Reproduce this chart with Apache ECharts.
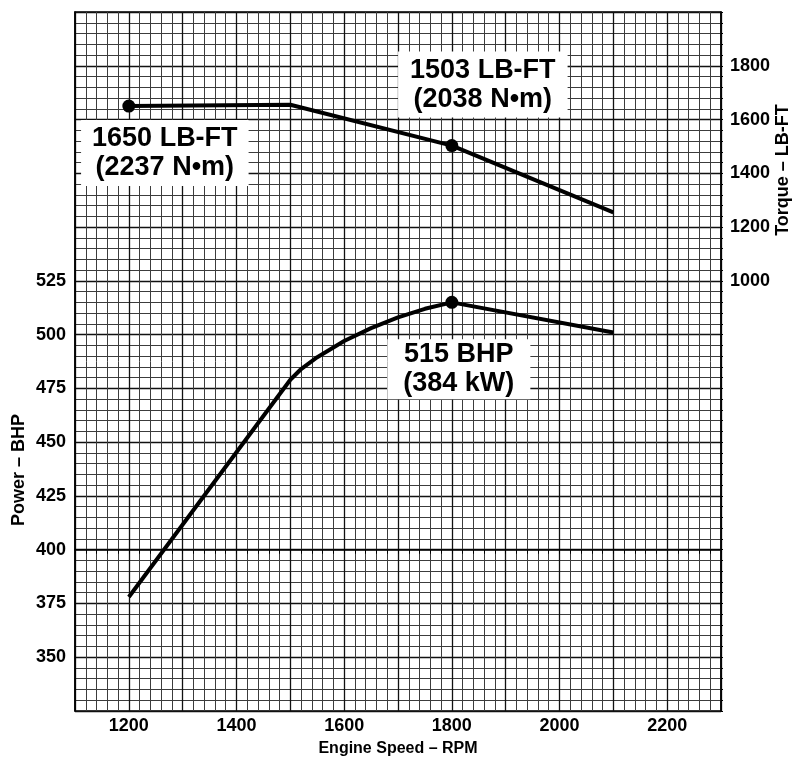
<!DOCTYPE html>
<html>
<head>
<meta charset="utf-8">
<script src="https://cdn.jsdelivr.net/npm/echarts@6/dist/echarts.min.js"></script>
<style>
html,body{margin:0;padding:0;background:#fff;}
#chart{width:799px;height:758px;}
</style>
</head>
<body>
<div id="chart"></div>
<script>
// ---- data ----
const rpmTorque = [1200, 1500, 1800, 2100];
const torqueLbFt = [1650, 1655, 1503, 1255];
const rpmPower = [1200, 1500, 1520, 1550, 1600, 1650, 1700, 1750, 1800, 2100];
const powerBhp = [378, 479, 484, 489.5, 497, 503, 508, 512, 515, 501];

const torquePeakRpm = [1200, 1800];
const torquePeakVal = [1650, 1503];
const torquePeakText = ['1650 LB-FT\n(2237 N•m)', '1503 LB-FT\n(2038 N•m)'];
const powerPeakRpm = [1800];
const powerPeakVal = [515];
const powerPeakText = ['515 BHP\n(384 kW)'];

const xTickLabels = [1200, 1400, 1600, 1800, 2000, 2200];
const powerTickLabels = [350, 375, 400, 425, 450, 475, 500, 525];
const torqueTickLabels = [1000, 1200, 1400, 1600, 1800];

// ---- chart ----
const FONT = '"Liberation Sans", Arial, Helvetica, sans-serif';
const chart = echarts.init(document.getElementById('chart'), null, {renderer: 'canvas'});

const zip = (a, b) => a.map((v, i) => [v, b[i]]);

const annotOffsets = {
  torque: [[36, 47], [31, -61]],
  power: [[7, 67]]
};
const annotPadding = {
  torque: [[4, 11], [4, 12]],
  power: [[1, 16]]
};

function labelItem(x, y, text, offset, padding) {
  return {
    value: [x, y],
    itemStyle: {opacity: 1, color: '#000'},
    label: {
      show: true,
      formatter: text,
      position: 'inside',
      offset: offset,
      align: 'center',
      verticalAlign: 'middle',
      fontFamily: FONT,
      fontWeight: 'bold',
      fontSize: 27,
      lineHeight: 29,
      color: '#000',
      opacity: 1,
      backgroundColor: '#fff',
      padding: padding
    }
  };
}

const tickFont = {fontFamily: FONT, fontWeight: 'bold', fontSize: 18, color: '#000'};

const option = {
  backgroundColor: '#fff',
  animation: false,
  grid: {left: 75, right: 78, top: 12, bottom: 47, containLabel: false, outerBoundsMode: 'none',
         show: true, borderColor: '#000', borderWidth: 1.5, backgroundColor: '#fff'},
  xAxis: {
    type: 'value', min: 1100, max: 2300, interval: 100,
    name: 'Engine Speed – RPM', nameLocation: 'middle', nameGap: 30,
    nameTextStyle: {fontFamily: FONT, fontWeight: 'bold', fontSize: 16, color: '#000'},
    axisLine: {show: true, lineStyle: {color: '#000', width: 1.5}},
    axisTick: {show: true, length: 4, lineStyle: {color: '#000'}},
    minorTick: {show: true, splitNumber: 5, length: 4, lineStyle: {color: '#000'}},
    splitLine: {show: true, lineStyle: {color: '#111', width: 1.3}},
    minorSplitLine: {show: true, lineStyle: {color: '#3c3c3c', width: 1}},
    axisLabel: Object.assign({margin: 6, formatter: v => xTickLabels.includes(v) ? String(v) : ''}, tickFont)
  },
  yAxis: [
    {
      type: 'value', min: 325, max: 650, interval: 25, position: 'left',
      axisLine: {show: true, lineStyle: {color: '#000', width: 1.5}},
      axisTick: {show: false},
      splitLine: {show: true, lineStyle: {color: '#111', width: 1.3}},
      minorSplitLine: {show: true, lineStyle: {color: '#3c3c3c', width: 1}},
      minorTick: {show: false, splitNumber: 5},
      axisLabel: Object.assign({margin: 9, formatter: v => powerTickLabels.includes(v) ? String(v) : ''}, tickFont)
    },
    {
      type: 'value', min: -600, max: 2000, interval: 200, position: 'right',
      axisLine: {show: true, lineStyle: {color: '#000', width: 1.5}},
      axisTick: {show: true, length: 2, lineStyle: {color: '#000'}},
      minorTick: {show: true, splitNumber: 5, length: 2, lineStyle: {color: '#000'}},
      splitLine: {show: false},
      axisLabel: Object.assign({margin: 9, formatter: v => torqueTickLabels.includes(v) ? String(v) : ''}, tickFont)
    }
  ],
  graphic: [
    {type: 'text', x: 19, y: 470, rotation: Math.PI / 2,
     style: {text: 'Power – BHP', font: 'bold 18px ' + FONT, fill: '#000', textAlign: 'center', textVerticalAlign: 'middle'}},
    {type: 'text', x: 783, y: 170, rotation: Math.PI / 2,
     style: {text: 'Torque – LB-FT', font: 'bold 18px ' + FONT, fill: '#000', textAlign: 'center', textVerticalAlign: 'middle'}}
  ],
  series: [
    {
      type: 'line', name: 'Torque', yAxisIndex: 1, data: zip(rpmTorque, torqueLbFt),
      symbol: 'none', lineStyle: {color: '#000', width: 4}, z: 3
    },
    {
      type: 'line', name: 'Power', yAxisIndex: 0, data: zip(rpmPower, powerBhp),
      symbol: 'none', lineStyle: {color: '#000', width: 4}, z: 3
    },
    {
      type: 'scatter', yAxisIndex: 1, symbolSize: 13, itemStyle: {color: '#000', opacity: 1}, z: 4,
      emphasis: {disabled: true},
      data: torquePeakRpm.map((r, i) => labelItem(r, torquePeakVal[i], torquePeakText[i], annotOffsets.torque[i], annotPadding.torque[i]))
    },
    {
      type: 'scatter', yAxisIndex: 0, symbolSize: 13, itemStyle: {color: '#000', opacity: 1}, z: 4,
      emphasis: {disabled: true},
      data: powerPeakRpm.map((r, i) => labelItem(r, powerPeakVal[i], powerPeakText[i], annotOffsets.power[i], annotPadding.power[i]))
    }
  ]
};
chart.setOption(option);
</script>
</body>
</html>
